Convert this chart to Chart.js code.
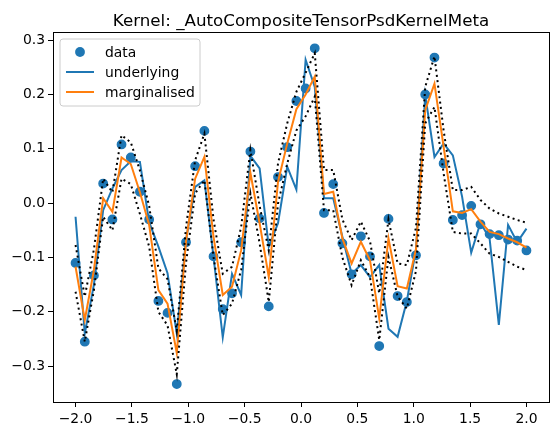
<!DOCTYPE html>
<html>
<head>
<meta charset="utf-8">
<script src="https://cdn.jsdelivr.net/npm/chart.js@4"></script>
<style>
  html, body { margin: 0; padding: 0; background: #fff; }
  #chart { display: block; }
</style>
</head>
<body>
<canvas id="chart" width="559" height="435"></canvas>
<script>
// sample locations along x
const xs = [-2.0, -1.918, -1.837, -1.755, -1.673, -1.592, -1.510, -1.429, -1.347, -1.265,
  -1.184, -1.102, -1.020, -0.939, -0.857, -0.776, -0.694, -0.612, -0.531, -0.449,
  -0.367, -0.286, -0.204, -0.122, -0.041, 0.041, 0.122, 0.204, 0.286, 0.367,
  0.449, 0.531, 0.612, 0.694, 0.776, 0.857, 0.939, 1.020, 1.102, 1.184,
  1.265, 1.347, 1.429, 1.510, 1.592, 1.673, 1.755, 1.837, 1.918, 2.0];

const observed = [-0.110, -0.255, -0.133, 0.036, -0.030, 0.108, 0.084, 0.021, -0.030, -0.180,
  -0.202, -0.333, -0.072, 0.068, 0.133, -0.098, -0.195, -0.166, -0.072, 0.095,
  -0.028, -0.190, 0.048, 0.103, 0.188, 0.211, 0.285, -0.018, 0.035, -0.074,
  -0.131, -0.061, -0.098, -0.263, -0.029, -0.171, -0.182, -0.096, 0.200, 0.268,
  0.073, -0.031, -0.022, -0.005, -0.039, -0.057, -0.059, -0.067, -0.069, -0.087];

const underlying = [-0.025, -0.240, -0.150, -0.013, 0.027, 0.061, 0.077, 0.076, -0.035, -0.080,
  -0.129, -0.240, -0.068, 0.030, 0.042, -0.099, -0.247, -0.130, -0.169, 0.087,
  0.064, -0.080, -0.037, 0.067, 0.025, 0.264, 0.214, 0.009, 0.009, -0.062,
  -0.130, -0.114, -0.136, -0.114, -0.231, -0.246, -0.180, -0.085, 0.199, 0.085,
  0.110, 0.088, 0.012, -0.091, -0.036, -0.065, -0.224, -0.040, -0.072, -0.047];

const marginal = [-0.117, -0.215, -0.123, 0.009, -0.016, 0.084, 0.072, 0.020, -0.040, -0.160,
  -0.185, -0.276, -0.070, 0.045, 0.085, -0.062, -0.169, -0.154, -0.087, 0.056,
  -0.037, -0.136, 0.039, 0.110, 0.173, 0.200, 0.233, 0.017, 0.021, -0.065,
  -0.111, -0.071, -0.105, -0.212, -0.065, -0.153, -0.157, -0.085, 0.171, 0.220,
  0.104, -0.015, -0.018, -0.011, -0.034, -0.053, -0.057, -0.065, -0.072, -0.082];

const upperBand = [-0.077, -0.172, -0.085, 0.045, 0.020, 0.125, 0.112, 0.060, -0.005, -0.120,
  -0.140, -0.235, -0.044, 0.079, 0.128, -0.030, -0.130, -0.117, -0.044, 0.098,
  -0.005, -0.087, 0.073, 0.147, 0.205, 0.240, 0.276, 0.061, 0.061, -0.030,
  -0.068, -0.034, -0.070, -0.166, -0.030, -0.111, -0.114, -0.045, 0.214, 0.270,
  0.134, 0.024, 0.024, 0.030, 0.006, -0.010, -0.019, -0.025, -0.031, -0.036];

const lowerBand = [-0.163, -0.255, -0.160, -0.025, -0.050, 0.045, 0.035, -0.020, -0.080, -0.200,
  -0.225, -0.315, -0.110, 0.018, 0.042, -0.099, -0.206, -0.185, -0.123, 0.018,
  -0.074, -0.182, -0.001, 0.073, 0.134, 0.160, 0.196, -0.013, -0.013, -0.100,
  -0.151, -0.105, -0.136, -0.252, -0.099, -0.172, -0.194, -0.125, 0.147, 0.177,
  0.055, -0.053, -0.056, -0.056, -0.074, -0.093, -0.099, -0.108, -0.117, -0.123];

const xTicks = [-2.0, -1.5, -1.0, -0.5, 0.0, 0.5, 1.0, 1.5, 2.0];
const yTicks = [-0.3, -0.2, -0.1, 0.0, 0.1, 0.2, 0.3];

const titleText = 'Kernel: _AutoCompositeTensorPsdKernelMeta';
const legendLabels = ['data', 'underlying', 'marginalised'];

const BLUE = '#1f77b4';
const ORANGE = '#ff7f0e';
const FONT = '"DejaVu Sans", sans-serif';

const pts = ys => xs.map((x, i) => ({ x: x, y: ys[i] }));
const fmt = v => (Math.abs(v) < 1e-9 ? 0 : v).toFixed(1).replace('-', '\u2212');

// frame, title and matplotlib-like legend
const decorations = {
  id: 'decorations',
  afterDraw(chart) {
    const { ctx, chartArea: a } = chart;
    ctx.save();
    ctx.strokeStyle = '#000';
    ctx.lineWidth = 1;
    ctx.strokeRect(Math.round(a.left) + 0.5, Math.round(a.top) + 0.5,
      Math.round(a.right - a.left), Math.round(a.bottom - a.top));

    ctx.fillStyle = '#000';
    ctx.font = '16.7px ' + FONT;
    ctx.textAlign = 'center';
    ctx.textBaseline = 'alphabetic';
    ctx.fillText(titleText, (a.left + a.right) / 2, 26);

    // legend box
    const bx = 60, by = 39, bw = 140, bh = 67, r = 3;
    ctx.beginPath();
    ctx.moveTo(bx + r, by);
    ctx.arcTo(bx + bw, by, bx + bw, by + bh, r);
    ctx.arcTo(bx + bw, by + bh, bx, by + bh, r);
    ctx.arcTo(bx, by + bh, bx, by, r);
    ctx.arcTo(bx, by, bx + bw, by, r);
    ctx.closePath();
    ctx.fillStyle = 'rgba(255,255,255,0.8)';
    ctx.fill();
    ctx.strokeStyle = '#cccccc';
    ctx.stroke();

    const rows = [52, 72, 92];
    ctx.fillStyle = BLUE;
    ctx.beginPath();
    ctx.arc(80, rows[0], 4.9, 0, Math.PI * 2);
    ctx.fill();
    ctx.lineWidth = 2;
    [BLUE, ORANGE].forEach((c, i) => {
      ctx.strokeStyle = c;
      ctx.beginPath();
      ctx.moveTo(66, rows[i + 1]);
      ctx.lineTo(94, rows[i + 1]);
      ctx.stroke();
    });
    ctx.fillStyle = '#000';
    ctx.font = '13.9px ' + FONT;
    ctx.textAlign = 'left';
    ctx.textBaseline = 'middle';
    legendLabels.forEach((t, i) => ctx.fillText(t, 105, rows[i] + 1));
    ctx.restore();
  }
};

const lineSet = (data, color, order, dash) => ({
  type: 'line',
  data: pts(data),
  borderColor: color,
  borderWidth: 2,
  borderDash: dash || [],
  pointRadius: 0,
  tension: 0,
  fill: false,
  order: order
});

new Chart(document.getElementById('chart'), {
  type: 'scatter',
  data: {
    datasets: [
      {
        type: 'scatter',
        data: pts(observed),
        backgroundColor: BLUE,
        borderColor: BLUE,
        borderWidth: 1.4,
        pointRadius: 4.2,
        order: 4
      },
      lineSet(underlying, BLUE, 3),
      lineSet(marginal, ORANGE, 2),
      lineSet(upperBand, '#000', 1, [2, 3.4]),
      lineSet(lowerBand, '#000', 0, [2, 3.4])
    ]
  },
  options: {
    responsive: false,
    devicePixelRatio: 1,
    animation: false,
    layout: { padding: { left: 0, right: 10, top: 32, bottom: 0 } },
    plugins: {
      legend: { display: false },
      title: { display: false },
      tooltip: { enabled: false }
    },
    scales: {
      x: {
        type: 'linear',
        min: -2.2,
        max: 2.2,
        afterBuildTicks: s => { s.ticks = xTicks.map(v => ({ value: v })); },
        afterFit: s => { s.height = 33; },
        grid: { drawOnChartArea: false, drawTicks: true, tickLength: 5, color: '#000' },
        border: { display: true, color: '#000', width: 1 },
        ticks: {
          color: '#000',
          font: { family: FONT, size: 13.9 },
          padding: 4,
          maxRotation: 0,
          callback: v => fmt(v)
        }
      },
      y: {
        type: 'linear',
        min: -0.366,
        max: 0.315,
        afterBuildTicks: s => { s.ticks = yTicks.map(v => ({ value: v })); },
        afterFit: s => { s.width = 53; },
        grid: { drawOnChartArea: false, drawTicks: true, tickLength: 5, color: '#000' },
        border: { display: true, color: '#000', width: 1 },
        ticks: {
          color: '#000',
          font: { family: FONT, size: 13.9 },
          padding: 3,
          callback: v => fmt(v)
        }
      }
    }
  },
  plugins: [decorations]
});
</script>
</body>
</html>
